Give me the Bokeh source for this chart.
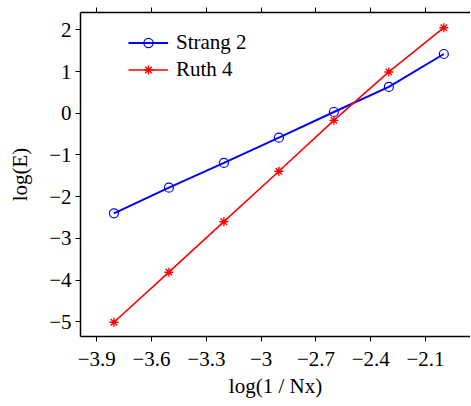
from bokeh.plotting import figure
from bokeh.models import LinearAxis, FixedTicker, Range1d, Legend, LegendItem
from bokeh.embed import file_html
from bokeh.resources import INLINE

# data
log_inv_nx = [-3.806, -3.505, -3.204, -2.903, -2.602, -2.301, -2.000]
strang2 = [-2.40, -1.785, -1.19, -0.585, 0.03, 0.63, 1.42]
ruth4 = [-5.01, -3.81, -2.60, -1.39, -0.17, 0.99, 2.05]
x_ticks = [-3.9, -3.6, -3.3, -3.0, -2.7, -2.4, -2.1]
x_tick_labels = ["\u22123.9", "\u22123.6", "\u22123.3", "\u22123", "\u22122.7", "\u22122.4", "\u22122.1"]
y_ticks = [-5, -4, -3, -2, -1, 0, 1, 2]
y_tick_labels = ["\u22125", "\u22124", "\u22123", "\u22122", "\u22121", "0", "1", "2"]

FONT = "Liberation Serif"
FS = "21px"

p = figure(width=470, height=405, output_backend="svg", toolbar_location=None,
           x_range=Range1d(-3.989, -1.854), y_range=Range1d(-5.352, 2.415),
           x_axis_label="log(1 / Nx)", y_axis_label="log(E)",
           min_border_left=80, min_border_right=0, min_border_top=12, min_border_bottom=69)
p.outline_line_color = None
p.grid.visible = False
p.background_fill_color = "white"
p.border_fill_color = "white"

for ax in (p.xaxis[0], p.yaxis[0]):
    ax.axis_line_width = 1.5
    ax.axis_line_color = "black"
    ax.major_tick_line_color = "black"
    ax.major_tick_in = 0
    ax.major_tick_out = 5
    ax.minor_tick_line_color = None
    ax.major_label_text_font = FONT
    ax.major_label_text_font_size = FS
    ax.major_label_text_color = "black"
    ax.axis_label_text_font = FONT
    ax.axis_label_text_font_size = FS
    ax.axis_label_text_font_style = "normal"
    ax.axis_label_text_color = "black"

p.xaxis[0].ticker = FixedTicker(ticks=x_ticks)
p.xaxis[0].major_label_overrides = dict(zip(x_ticks, x_tick_labels))
p.xaxis[0].major_label_standoff = 10
p.xaxis[0].axis_label_standoff = 5
p.yaxis[0].ticker = FixedTicker(ticks=y_ticks)
p.yaxis[0].major_label_overrides = dict(zip(y_ticks, y_tick_labels))
p.yaxis[0].major_label_standoff = 4
p.yaxis[0].axis_label_standoff = 14

top = LinearAxis(ticker=FixedTicker(ticks=x_ticks))
top.axis_line_width = 1.5
top.major_tick_in = 0
top.major_tick_out = 5
top.minor_tick_line_color = None
top.major_label_overrides = {t: "" for t in x_ticks}
top.major_label_standoff = 0
p.add_layout(top, "above")

bl = p.line(log_inv_nx, strang2, line_color="#0000ff", line_width=2)
bm = p.scatter(log_inv_nx, strang2, marker="circle", size=9, fill_color=None,
               line_color="#0000ff", line_width=1.2)
rl = p.line(log_inv_nx, ruth4, line_color="#ff0000", line_width=1.6)
rm = p.scatter(log_inv_nx, ruth4, marker="asterisk", size=9, line_color="#ff0000", line_width=1.4)

legend = Legend(items=[LegendItem(label="Strang 2", renderers=[bl, bm]),
                       LegendItem(label="Ruth 4", renderers=[rl, rm])],
                location=(48, 254), border_line_color=None, background_fill_alpha=0,
                padding=0, margin=0, spacing=2, glyph_width=40, glyph_height=23,
                label_standoff=8, label_text_font=FONT, label_text_font_size=FS,
                label_text_font_style="normal",
                label_text_color="black")
p.add_layout(legend, "center")

open("out.html", "w").write(file_html(p, INLINE))
